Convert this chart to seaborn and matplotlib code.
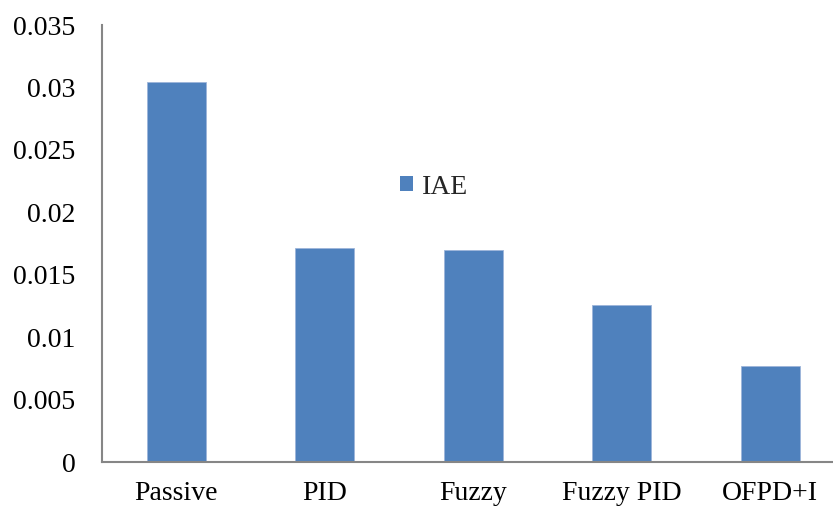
import matplotlib
matplotlib.use('Agg')
import matplotlib.pyplot as plt
import seaborn as sns
import pandas as pd
from matplotlib.patches import Patch

# data
categories = ['Passive', 'PID', 'Fuzzy', 'Fuzzy PID', 'OFPD+I']
iae_values = [0.0304, 0.0171, 0.0170, 0.01255, 0.0077]
y_ticks = [0, 0.005, 0.01, 0.015, 0.02, 0.025, 0.03, 0.035]
y_tick_labels = ['0', '0.005', '0.01', '0.015', '0.02', '0.025', '0.03', '0.035']

BAR_COLOR = '#4F81BD'
AXIS_COLOR = '#868686'
FS = 20

sns.set_theme(style='white')
plt.rcParams['font.family'] = ['Liberation Serif', 'DejaVu Serif']

df = pd.DataFrame({'method': categories, 'IAE': iae_values})

fig = plt.figure(figsize=(8.33, 5.09), dpi=100)
ax = fig.add_axes([102 / 833, 1 - 462 / 509, 742.5 / 833, 437 / 509])

sns.barplot(data=df, x='method', y='IAE', order=categories, ax=ax,
            color=BAR_COLOR, width=0.4, saturation=1,
            edgecolor='#9DB5DA', linewidth=0.6)

ax.set_xlim(-0.5, 4.5)
ax.set_ylim(0, 0.035)
ax.set_yticks(y_ticks)
ax.set_yticklabels(y_tick_labels)
ax.set_xlabel('')
ax.set_ylabel('')

for side in ['top', 'right']:
    ax.spines[side].set_visible(False)
for side in ['left', 'bottom']:
    ax.spines[side].set_color(AXIS_COLOR)
    ax.spines[side].set_linewidth(1.5)

ax.tick_params(axis='y', length=0, pad=19, labelsize=FS, colors='black')
ax.tick_params(axis='x', length=0, pad=14, labelsize=FS, colors='black')
ax.grid(False)

handle = Patch(facecolor=BAR_COLOR, edgecolor='none')
leg = ax.legend([handle], ['IAE'], frameon=False, fontsize=FS,
                loc='center left', bbox_to_anchor=(400 / 833, 1 - 187 / 509),
                bbox_transform=fig.transFigure,
                handlelength=0.45, handleheight=0.45, handletextpad=0.35,
                borderpad=0, borderaxespad=0)

fig.savefig('out.png', dpi=100, facecolor='white')
